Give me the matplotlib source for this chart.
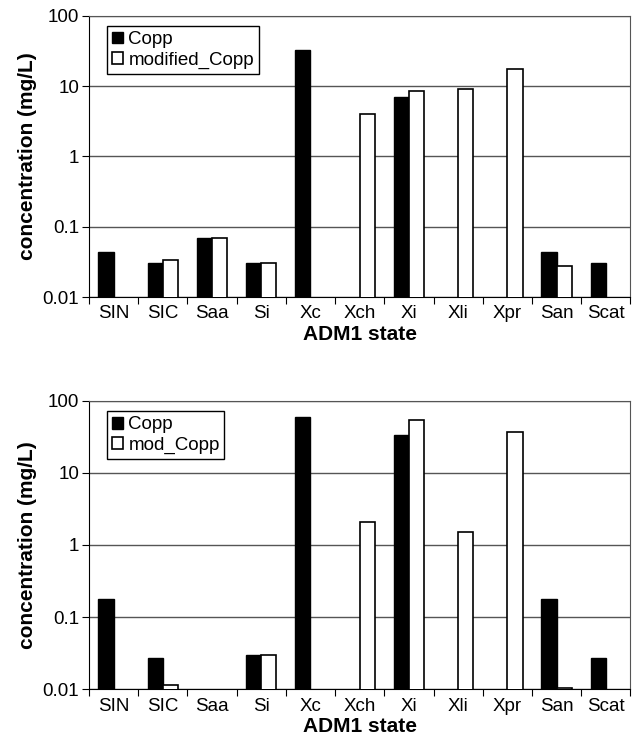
import numpy as np
import matplotlib.pyplot as plt

plt.rcParams['font.family'] = ['Liberation Sans', 'DejaVu Sans']

states = ["SIN", "SIC", "Saa", "Si", "Xc", "Xch", "Xi", "Xli", "Xpr", "San", "Scat"]

# top panel
copp_a = [0.044, 0.030, 0.0686, 0.030, 32.2, np.nan, 6.9, np.nan, np.nan, 0.044, 0.030]
mod_a = [np.nan, 0.034, 0.0686, 0.030, np.nan, 4.0, 8.6, 9.1, 17.7, 0.0276, np.nan]
# bottom panel
copp_b = [0.18, 0.0274, np.nan, 0.030, 60, np.nan, 33, np.nan, np.nan, 0.18, 0.0274]
mod_b = [np.nan, 0.0116, np.nan, 0.030, np.nan, 2.1, 53, 1.53, 36.5, 0.0105, np.nan]

fig = plt.figure(figsize=(6.4, 7.5), dpi=100)
ax1 = fig.add_axes([0.139, 0.604, 0.846, 0.375])
ax2 = fig.add_axes([0.139, 0.081, 0.846, 0.385])

def panel(ax, c, m, lab2):
    x = np.arange(len(states))
    w = 0.31
    ax.set_yscale("log")
    ax.set_ylim(0.01, 100)
    ax.set_xlim(-0.5, len(states) - 0.5)
    ax.yaxis.grid(True, color="#555555", lw=1)
    ax.set_axisbelow(True)
    ax.bar(x - w / 2, c, w, color="black", edgecolor="black", lw=1, label="Copp", zorder=3)
    ax.bar(x + w / 2, m, w, color="white", edgecolor="black", lw=1.2, label=lab2, zorder=3)
    ax.set_yticks([0.01, 0.1, 1, 10, 100])
    ax.set_yticklabels(["0.01", "0.1", "1", "10", "100"])
    ax.yaxis.set_minor_locator(plt.NullLocator())
    ax.set_xticks(np.arange(len(states) + 1) - 0.5)
    ax.set_xticklabels([])
    ax.set_xticks(x, minor=True)
    ax.set_xticklabels(states, minor=True)
    ax.tick_params(axis="x", which="minor", length=0, labelsize=13.5, pad=6)
    ax.tick_params(axis="x", which="major", length=5, direction="out")
    ax.tick_params(axis="y", labelsize=13.5, length=5, pad=2)
    for s in ax.spines.values():
        s.set_color("black")
    ax.spines["top"].set_color("#555555")
    ax.spines["right"].set_color("#555555")
    ax.set_xlabel("ADM1 state", fontsize=15, fontweight="bold", labelpad=2)
    ax.set_ylabel("concentration (mg/L)", fontsize=15, fontweight="bold", labelpad=4)
    leg = ax.legend(loc="upper left", bbox_to_anchor=(0.033, 0.962), fancybox=False,
                    edgecolor="black", framealpha=1, fontsize=13.5, handlelength=0.6,
                    handleheight=0.6, handletextpad=0.3, borderpad=0.25, labelspacing=0.2,
                    borderaxespad=0)
    leg.get_frame().set_linewidth(1)

panel(ax1, copp_a, mod_a, "modified_Copp")
panel(ax2, copp_b, mod_b, "mod_Copp")

fig.savefig("out.png", dpi=100)
